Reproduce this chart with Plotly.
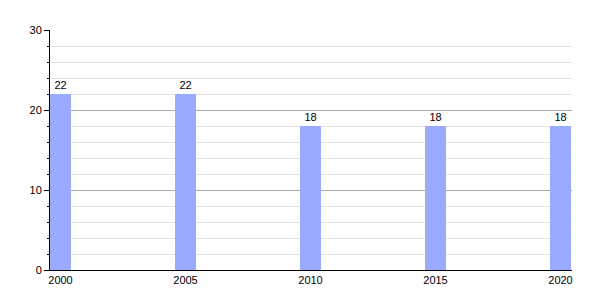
import plotly.graph_objects as go

years = [2000, 2005, 2010, 2015, 2020]
values = [22, 22, 18, 18, 18]
y_ticks = [0, 10, 20, 30]

fig = go.Figure()
fig.add_trace(go.Bar(
    x=years, y=values, width=0.84,
    marker=dict(color="#99aaff", line=dict(width=0)),
    text=[str(v) for v in values], textposition="outside",
    textfont=dict(family="Liberation Sans, Arial, sans-serif", size=11, color="#000"),
    cliponaxis=False,
))
fig.update_layout(
    width=600, height=300,
    margin=dict(l=50, r=28, t=30, b=30),
    paper_bgcolor="white", plot_bgcolor="white",
    showlegend=False,
    font=dict(family="Liberation Sans, Arial, sans-serif", size=11, color="#000"),
    xaxis=dict(
        range=[1999.58, 2020.46], tickmode="array", tickvals=years,
        ticktext=[str(y) for y in years], ticks="", showgrid=False,
        showline=True, linecolor="#000", linewidth=1, zeroline=False,
        tickfont=dict(size=11),
    ),
    yaxis=dict(
        range=[0, 30], tickmode="array", tickvals=y_ticks,
        ticks="outside", ticklen=5, tickcolor="#000", tickwidth=1,
        showline=True, linecolor="#000", linewidth=1,
        showgrid=True, gridcolor="#aaaaaa", gridwidth=1, zeroline=False,
        minor=dict(dtick=2, showgrid=True, gridcolor="#e2e2e2", gridwidth=1,
                   ticks="outside", ticklen=2, tickcolor="#000"),
        tickfont=dict(size=11),
    ),
    bargap=0,
)
fig.write_html("out.html")
